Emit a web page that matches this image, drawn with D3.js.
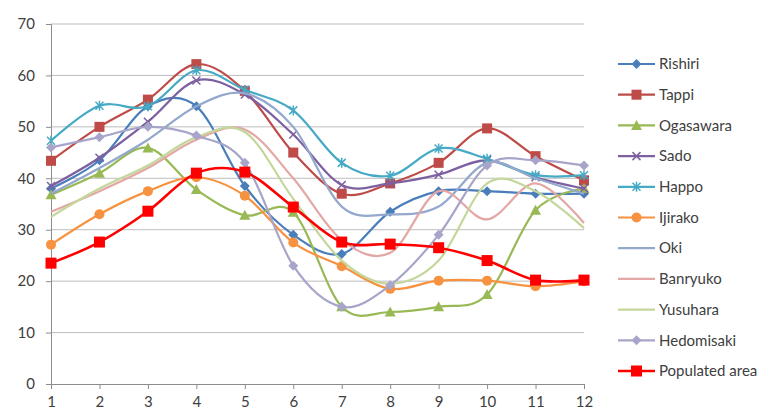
<!DOCTYPE html>
<html>
<head>
<meta charset="utf-8">
<script src="https://cdn.jsdelivr.net/npm/d3@7"></script>
<style>
  body { margin: 0; background: #fff; }
  svg text { font-family: Lato, "Liberation Sans", sans-serif; }
</style>
</head>
<body>
<div id="chart"></div>
<script>
// months on the x axis
const months = [1, 2, 3, 4, 5, 6, 7, 8, 9, 10, 11, 12];
const yTicks = [0, 10, 20, 30, 40, 50, 60, 70];

const seriesNames = ['Rishiri', 'Tappi', 'Ogasawara', 'Sado', 'Happo', 'Ijirako', 'Oki',
                     'Banryuko', 'Yusuhara', 'Hedomisaki', 'Populated area'];

const rishiri    = [38, 43.5, 54, 54, 38.5, 29, 25.3, 33.5, 37.5, 37.5, 37, 37];
const tappi      = [43.4, 50, 55.3, 62.2, 57, 45, 37, 39, 43, 49.7, 44.3, 39.6];
const ogasawara  = [36.8, 41, 45.9, 37.8, 32.8, 33.4, 15, 14, 15, 17.4, 33.8, 38];
const sado       = [38.5, 44, 51, 59, 56.3, 48.5, 38.7, 39, 40.7, 43.5, 40.2, 38];
const happo      = [47.3, 54.1, 54, 61, 57.2, 53.2, 43, 40.5, 45.8, 43.8, 40.6, 40.6];
const ijirako    = [27.1, 33, 37.5, 40.2, 36.6, 27.5, 22.9, 18.5, 20.1, 20.1, 19, 20];
const oki        = [37, 42, 47.5, 54, 56.5, 50, 34.5, 33, 34.5, 43, 40, 37];
const banryuko   = [33.5, 37.5, 42, 47.5, 49.5, 40, 28, 25.5, 37.5, 32, 39, 31.3];
const yusuhara   = [32.5, 38, 42.5, 48, 49, 36, 24, 19.5, 24, 39, 37.5, 30.3];
const hedomisaki = [46, 48, 50, 48.3, 43, 23, 15, 19.2, 29, 42.5, 43.5, 42.5];
const populated  = [23.5, 27.6, 33.6, 41, 41.2, 34.4, 27.6, 27.2, 26.5, 24, 20.2, 20.2];

const seriesValues = [rishiri, tappi, ogasawara, sado, happo, ijirako, oki,
                      banryuko, yusuhara, hedomisaki, populated];

const colors = ['#4A7EBB', '#BE4B48', '#98B954', '#7D60A0', '#46AAC5', '#F69240', '#93A8CC',
                '#E3A7A5', '#C4D79B', '#A7A5C9', '#FF0000'];
const markers = ['diamond', 'square', 'triangle', 'cross', 'star', 'circle', 'none',
                 'none', 'none', 'diamond', 'bigsquare'];

const width = 767;
const height = 410;

const svg = d3.select('#chart').append('svg')
    .attr('width', width)
    .attr('height', height);

const x = d3.scalePoint().domain(months).range([51, 584]);
const y = d3.scaleLinear().domain([0, 70]).range([384, 24]);

// gridlines
svg.append('g')
    .selectAll('line')
    .data(yTicks.slice(1))
    .enter().append('line')
        .attr('x1', x(1)).attr('x2', x(12))
        .attr('y1', d => y(d)).attr('y2', d => y(d))
        .attr('stroke', '#bdbdbd')
        .attr('stroke-width', 1);

// axes
let yAxis = d3.axisLeft(y).tickValues(yTicks).tickSize(5).tickPadding(11);
let xAxis = d3.axisBottom(x).tickSize(5).tickPadding(7);

const gy = svg.append('g').attr('transform', 'translate(' + x(1) + ',0)').call(yAxis);
const gx = svg.append('g').attr('transform', 'translate(0,' + y(0) + ')').call(xAxis);

[gx, gy].forEach(g => {
    g.select('.domain').attr('stroke', '#8c8c8c');
    g.selectAll('.tick line').attr('stroke', '#8c8c8c');
    g.selectAll('.tick text').attr('fill', '#404040').style('font-size', '15px');
});

// smoothed lines like excel
const line = d3.line()
    .x((d, i) => x(months[i]))
    .y(d => y(d))
    .curve(d3.curveCardinal.tension(0));

function drawMarker(g, type, color, cx, cy) {
    if (type === 'diamond') {
        g.append('path').attr('d', `M${cx},${cy-5}L${cx+5},${cy}L${cx},${cy+5}L${cx-5},${cy}Z`).attr('fill', color);
    } else if (type === 'square') {
        g.append('rect').attr('x', cx-5).attr('y', cy-5).attr('width', 10).attr('height', 10).attr('fill', color);
    } else if (type === 'bigsquare') {
        g.append('rect').attr('x', cx-5.5).attr('y', cy-5.5).attr('width', 11).attr('height', 11).attr('fill', color);
    } else if (type === 'triangle') {
        g.append('path').attr('d', `M${cx},${cy-5.5}L${cx+5.5},${cy+4.5}L${cx-5.5},${cy+4.5}Z`).attr('fill', color);
    } else if (type === 'circle') {
        g.append('circle').attr('cx', cx).attr('cy', cy).attr('r', 5).attr('fill', color);
    } else if (type === 'cross') {
        g.append('path').attr('d', `M${cx-4},${cy-4}L${cx+4},${cy+4}M${cx-4},${cy+4}L${cx+4},${cy-4}`)
            .attr('stroke', color).attr('stroke-width', 1.5);
    } else if (type === 'star') {
        g.append('path').attr('d', `M${cx-4},${cy-4}L${cx+4},${cy+4}M${cx-4},${cy+4}L${cx+4},${cy-4}M${cx},${cy-5}L${cx},${cy+5}`)
            .attr('stroke', color).attr('stroke-width', 1.5);
    }
}

seriesValues.forEach((vals, s) => {
    const g = svg.append('g');
    g.append('path')
        .attr('d', line(vals))
        .attr('fill', 'none')
        .attr('stroke', colors[s])
        .attr('stroke-width', s === 10 ? 2.6 : 2.2);
    vals.forEach((v, i) => drawMarker(g, markers[s], colors[s], x(months[i]), y(v)));
});

// legend
const legend = svg.append('g');
seriesNames.forEach((name, i) => {
    const ly = 64 + i * 30.7;
    const g = legend.append('g');
    g.append('line')
        .attr('x1', 618).attr('x2', 655)
        .attr('y1', ly).attr('y2', ly)
        .attr('stroke', colors[i])
        .attr('stroke-width', i === 10 ? 2.6 : 2.2);
    drawMarker(g, markers[i], colors[i], 636.5, ly);
    g.append('text')
        .attr('x', 659).attr('y', ly)
        .attr('dy', '0.35em')
        .attr('fill', '#404040')
        .style('font-size', '15px')
        .text(name);
});
</script>
</body>
</html>
